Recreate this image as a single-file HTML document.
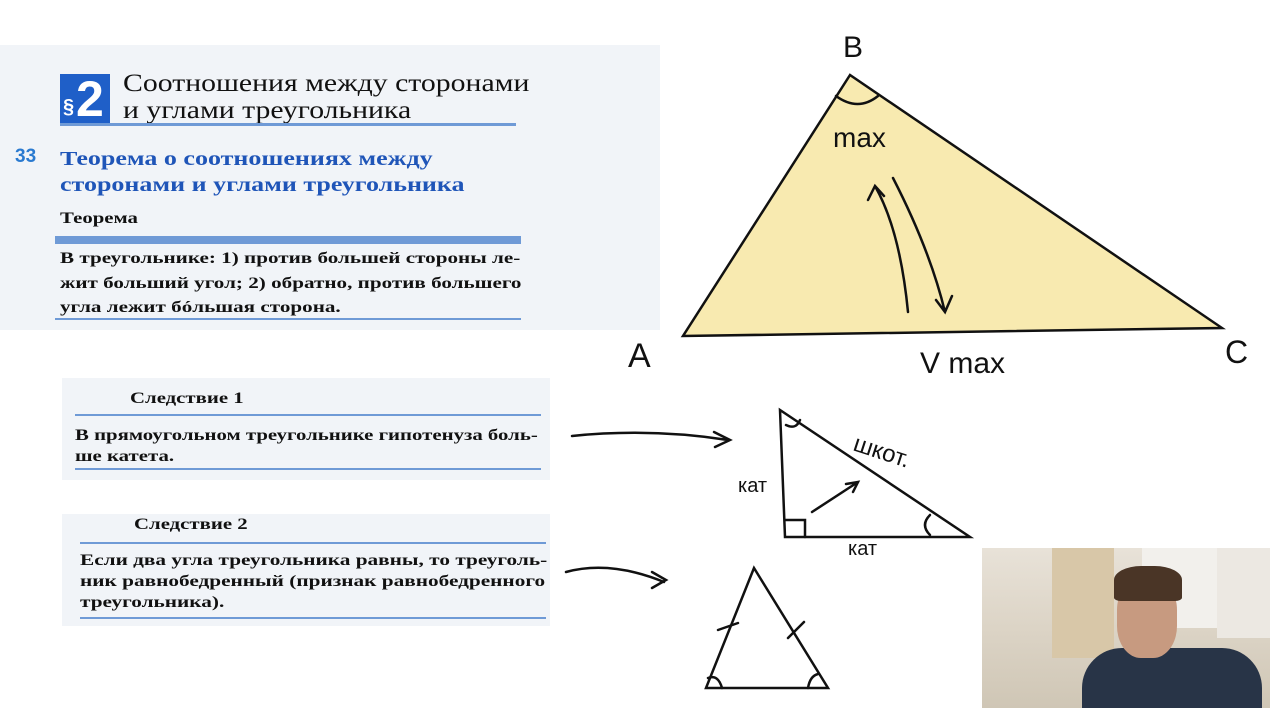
<!DOCTYPE html>
<html><head><meta charset="utf-8"><style>
body{margin:0;width:1280px;height:720px;background:#fff;position:relative;overflow:hidden;font-family:"Liberation Serif",serif}
.p{position:absolute;background:#f1f4f8}
.t{position:absolute;white-space:nowrap;color:#111;transform-origin:0 0}
.b{font-weight:bold}
.ln{position:absolute;height:3px;background:#6f9ad6}
</style></head><body>
<div class="p" style="left:0;top:45px;width:660px;height:285px"></div>
<div class="p" style="left:62px;top:378px;width:488px;height:102px"></div>
<div class="p" style="left:62px;top:514px;width:488px;height:112px"></div>
<div style="position:absolute;left:60px;top:74px;width:50px;height:52px;background:#1f5fc8;overflow:hidden">
<span style="position:absolute;left:3px;top:22px;color:#fff;font-family:'Liberation Sans',sans-serif;font-size:20px;font-weight:bold">&sect;</span>
<span style="position:absolute;left:16px;top:-4px;color:#fff;font-family:'Liberation Sans',sans-serif;font-size:50px;font-weight:bold">2</span></div>
<div class="t" style="left:123px;top:70px;font-size:25px;line-height:27px;transform:scaleX(1.19)">Соотношения между сторонами<br>и углами треугольника</div>
<div class="ln" style="left:60px;top:123px;width:456px;height:3px"></div>
<div class="t b" style="left:15px;top:146px;font-family:'Liberation Sans',sans-serif;font-size:19px;color:#2a7ad0">33</div>
<div class="t b" style="left:60px;top:146px;font-size:20px;line-height:26px;color:#1f55b8;transform:scaleX(1.3)">Теорема о соотношениях между<br>сторонами и углами треугольника</div>
<div class="t b" style="left:60px;top:210px;font-size:16px;transform:scaleX(1.3)">Теорема</div>
<div class="ln" style="left:55px;top:236px;width:466px;height:8px"></div>
<div class="t b" style="left:60px;top:247px;font-size:16px;line-height:24.5px;transform:scaleX(1.32)">В треугольнике: 1) против большей стороны ле-<br>жит больший угол; 2) обратно, против большего<br>угла лежит бóльшая сторона.</div>
<div class="ln" style="left:55px;top:318px;width:466px;height:2px"></div>
<div class="t b" style="left:130px;top:390px;font-size:16px;transform:scaleX(1.3)">Следствие 1</div>
<div class="ln" style="left:75px;top:414px;width:466px;height:2px"></div>
<div class="t b" style="left:75px;top:425px;font-size:16px;line-height:21px;transform:scaleX(1.3)">В прямоугольном треугольнике гипотенуза боль-<br>ше катета.</div>
<div class="ln" style="left:75px;top:468px;width:466px;height:2px"></div>
<div class="t b" style="left:134px;top:516px;font-size:16px;transform:scaleX(1.3)">Следствие 2</div>
<div class="ln" style="left:80px;top:542px;width:466px;height:2px"></div>
<div class="t b" style="left:80px;top:550px;font-size:16px;line-height:21px;transform:scaleX(1.33)">Если два угла треугольника равны, то треуголь-<br>ник равнобедренный (признак равнобедренного<br>треугольника).</div>
<div class="ln" style="left:80px;top:617px;width:466px;height:2px"></div>
<svg style="position:absolute;left:0;top:0" width="1280" height="720">
<g fill="none" stroke="#111" stroke-width="2.5" stroke-linecap="round">
<polygon points="850,75 683,336 1222,328" fill="#f8eab0" stroke="#111"/>
<path d="M836,96 Q858,112 878,96"/>
<path d="M908,312 Q900,230 875,186 M868,200 L875,186 L884,196"/>
<path d="M893,178 Q930,250 945,312 M936,300 L945,312 L952,296"/>
<text x="843" y="57" font-family="Liberation Sans" font-size="30" stroke="none" fill="#111">B</text>
<text x="628" y="367" font-family="Liberation Sans" font-size="34" stroke="none" fill="#111">A</text>
<text x="1225" y="363" font-family="Liberation Sans" font-size="32" stroke="none" fill="#111">C</text>
<text x="833" y="147" font-family="Liberation Sans" font-size="28" stroke="none" fill="#111">max</text>
<text x="920" y="373" font-family="Liberation Sans" font-size="30" stroke="none" fill="#111">V max</text>
<path d="M780,410 L785,537 L970,537 Z"/>
<path d="M785,520 L805,520 L805,537"/>
<path d="M786,425 Q796,430 800,420"/>
<path d="M930,515 Q920,525 930,535"/>
<path d="M812,512 L858,482 M846,484 L858,482 L853,492"/>
<text x="852" y="450" font-family="Liberation Sans" font-size="24" stroke="none" fill="#111" transform="rotate(18 852 450)">шкот.</text>
<text x="738" y="492" font-family="Liberation Sans" font-size="20" stroke="none" fill="#111">кат</text>
<text x="848" y="555" font-family="Liberation Sans" font-size="20" stroke="none" fill="#111">кат</text>
<path d="M754,568 L706,688 L828,688 Z"/>
<path d="M718,630 L738,623 M788,638 L804,622"/>
<path d="M708,678 Q718,674 722,688 M808,688 Q810,676 818,674"/>
<path d="M572,436 Q650,428 728,440 M714,432 L730,440 L715,447"/>
<path d="M566,572 Q610,560 664,582 M652,572 L666,580 L652,588"/>
</g>
</svg>
<div style="position:absolute;left:982px;top:548px;width:288px;height:160px;background:linear-gradient(180deg,#e8e2d8 0%,#dcd4c6 50%,#cfc6b5 100%);overflow:hidden">
<div style="position:absolute;left:70px;top:0;width:62px;height:110px;background:#d8c7a8"></div>
<div style="position:absolute;left:160px;top:0;width:75px;height:80px;background:#f2f0ec"></div>
<div style="position:absolute;left:235px;top:0;width:53px;height:90px;background:#ece8e2"></div>
<div style="position:absolute;left:100px;top:100px;width:180px;height:60px;background:#283447;border-radius:40px 40px 0 0"></div>
<div style="position:absolute;left:135px;top:30px;width:60px;height:80px;background:#c79a80;border-radius:40%"></div>
<div style="position:absolute;left:132px;top:18px;width:68px;height:35px;background:#4a3526;border-radius:40% 40% 10% 10%"></div>
</div>
</body></html>
